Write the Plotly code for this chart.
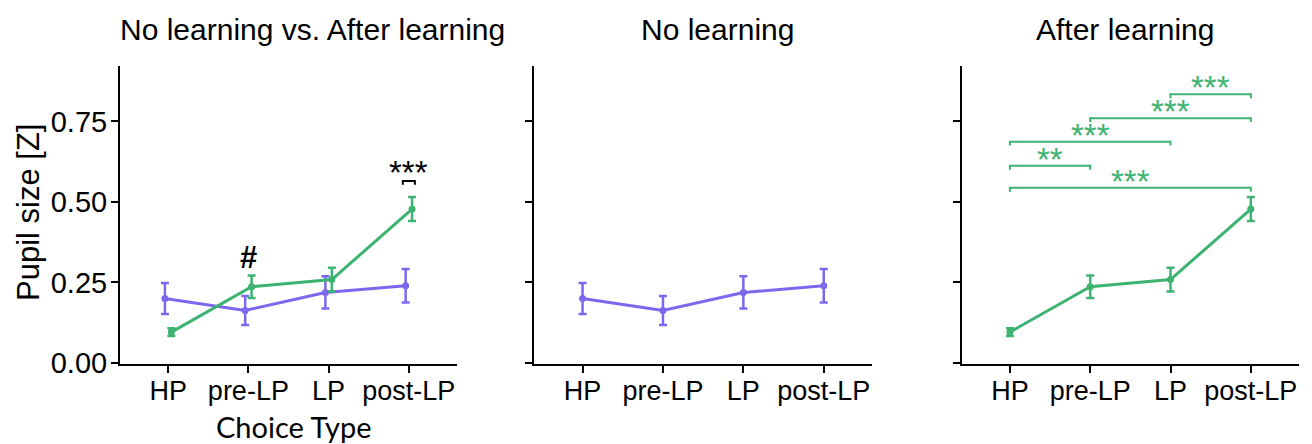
import plotly.graph_objects as go

# ---------------- data ----------------
categories = ["HP", "pre-LP", "LP", "post-LP"]
no_learning_mean = [0.200, 0.163, 0.219, 0.240]
no_learning_err = [0.048, 0.045, 0.050, 0.052]
after_learning_mean = [0.096, 0.237, 0.259, 0.478]
after_learning_err = [0.012, 0.035, 0.037, 0.037]

panel_titles = ["No learning vs. After learning", "No learning", "After learning"]
y_tickvals = [0.00, 0.25, 0.50, 0.75]
y_ticktext = ["0.00", "0.25", "0.50", "0.75"]

# pairwise comparisons in "After learning" panel: (from, to, bracket height, label)
comparisons = [
    ("HP", "post-LP", 0.544, "***"),
    ("HP", "pre-LP", 0.612, "**"),
    ("HP", "LP", 0.687, "***"),
    ("pre-LP", "post-LP", 0.760, "***"),
    ("LP", "post-LP", 0.834, "***"),
]
# panel 1 annotations
hash_mark = ("pre-LP", 0.329, "#")
panel1_star = ("post-LP", 0.565, "***")

# ---------------- style ----------------
PURPLE = "#7B68EE"
GREEN = "#3CB371"
FONT = "Liberation Sans, Arial, sans-serif"
W, H = 1312, 444

xpos = {c: i + 1 for i, c in enumerate(categories)}
xs = [xpos[c] for c in categories]
dodge = 0.04
bracket_half = 0.075
tick = 0.012


def px_x(p):
    return p / W


def px_y(p):
    return 1 - p / H


domains = [(120, 457), (534.3, 872), (961.7, 1299)]
ydom = [px_y(364.3), px_y(66)]

fig = go.Figure()


def add_series(xvals, y, err, color, axis_idx):
    suffix = "" if axis_idx == 1 else str(axis_idx)
    fig.add_trace(go.Scatter(
        x=xvals, y=y,
        mode="lines+markers",
        line=dict(color=color, width=3),
        marker=dict(color=color, size=7),
        error_y=dict(type="data", array=err, color=color, thickness=2.5, width=4),
        xaxis="x" + suffix, yaxis="y" + suffix,
        showlegend=False, hoverinfo="skip",
    ))


# panel 1: both series, dodged
add_series([x - dodge for x in xs], no_learning_mean, no_learning_err, PURPLE, 1)
add_series([x + dodge for x in xs], after_learning_mean, after_learning_err, GREEN, 1)
# panel 2: no learning
add_series(xs, no_learning_mean, no_learning_err, PURPLE, 2)
# panel 3: after learning
add_series(xs, after_learning_mean, after_learning_err, GREEN, 3)

axis_common = dict(
    showline=True, linecolor="black", linewidth=2,
    ticks="outside", ticklen=7, tickwidth=1.5, tickcolor="black",
    showgrid=False, zeroline=False, automargin=False,
)

layout = dict(
    width=W, height=H,
    margin=dict(l=0, r=0, t=0, b=0, pad=0, autoexpand=False),
    paper_bgcolor="white", plot_bgcolor="white",
)
for i, (a, b) in enumerate(domains, start=1):
    sx = "xaxis" if i == 1 else f"xaxis{i}"
    sy = "yaxis" if i == 1 else f"yaxis{i}"
    anchor_y = "y" if i == 1 else f"y{i}"
    anchor_x = "x" if i == 1 else f"x{i}"
    layout[sx] = dict(axis_common, domain=[px_x(a), px_x(b)], range=[0.4, 4.6],
                      tickvals=xs, ticktext=categories, anchor=anchor_y,
                      ticklabelstandoff=-6,
                      tickfont=dict(family=FONT, size=27, color="black"))
    layout[sy] = dict(axis_common, domain=ydom, range=[-0.004, 0.922],
                      tickvals=y_tickvals, ticktext=y_ticktext,
                      showticklabels=(i == 1), anchor=anchor_x,
                      ticklabelstandoff=-2,
                      tickfont=dict(family=FONT, size=29, color="black"))
fig.update_layout(**layout)

annotations = []
# panel titles
title_centers = [312, 717, 1125]
for t, cx in zip(panel_titles, title_centers):
    annotations.append(dict(text=t, x=px_x(cx), y=px_y(29), xref="paper", yref="paper",
                            showarrow=False, xanchor="center", yanchor="middle",
                            font=dict(family=FONT, size=30, color="black")))
# axis titles
annotations.append(dict(text="Pupil size [Z]", x=px_x(28), y=px_y(213), xref="paper", yref="paper",
                        showarrow=False, textangle=-90, xanchor="center", yanchor="middle",
                        font=dict(family=FONT, size=31, color="black")))
annotations.append(dict(text="Choice Type", x=px_x(294), y=px_y(426), xref="paper", yref="paper",
                        showarrow=False, xanchor="center", yanchor="middle",
                        font=dict(family="Lato, Carlito, sans-serif", size=29, color="black")))
# panel 1 marks
cat, yv, lab = hash_mark
annotations.append(dict(text="<b>" + lab + "</b>", x=xpos[cat], y=yv, xref="x", yref="y",
                        showarrow=False, xanchor="center", yanchor="middle",
                        font=dict(family=FONT, size=31, color="black")))

shapes = []
# tiny bracket between dodged points at post-LP in panel 1
cat, yv, lab = panel1_star
xp = xpos[cat]
path = (f"M {xp - bracket_half},{yv - tick} L {xp - bracket_half},{yv} "
        f"L {xp + bracket_half},{yv} L {xp + bracket_half},{yv - tick}")
shapes.append(dict(type="path", path=path, xref="x", yref="y",
                   line=dict(color="black", width=2)))
annotations.append(dict(text=lab, x=xp, y=yv, xref="x", yref="y", showarrow=False,
                        xanchor="center", yanchor="bottom", yshift=-12,
                        font=dict(family=FONT, size=33, color="black")))

# comparison brackets in panel 3
for c0, c1, yv, lab in comparisons:
    a, b = xpos[c0], xpos[c1]
    path = f"M {a},{yv - tick} L {a},{yv} L {b},{yv} L {b},{yv - tick}"
    shapes.append(dict(type="path", path=path, xref="x3", yref="y3",
                       line=dict(color=GREEN, width=2)))
    annotations.append(dict(text=lab, x=(a + b) / 2, y=yv, xref="x3", yref="y3", showarrow=False,
                            xanchor="center", yanchor="bottom", yshift=-14,
                            font=dict(family=FONT, size=33, color=GREEN)))

fig.update_layout(annotations=annotations, shapes=shapes)
fig.write_html("out.html")
